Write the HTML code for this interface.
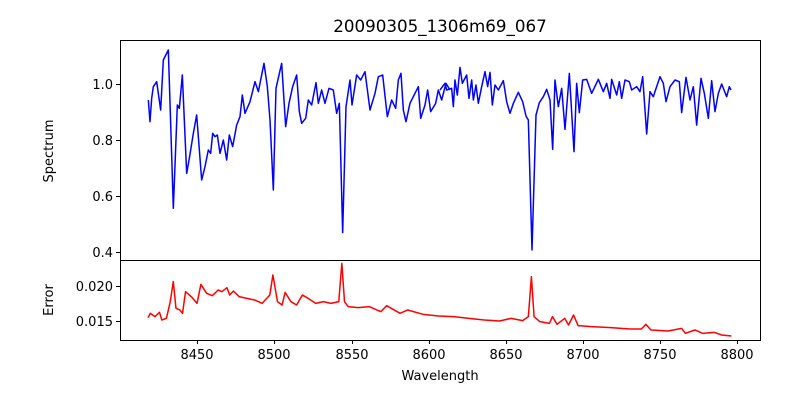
<!DOCTYPE html>
<html><head><meta charset="utf-8"><style>
html,body{margin:0;padding:0;background:#fff;}
svg{display:block;font-family:"DejaVu Sans","Liberation Sans",sans-serif;}
</style></head><body>
<svg width="800" height="400" viewBox="0 0 800 400" xmlns="http://www.w3.org/2000/svg">
<rect width="800" height="400" fill="#fff"/>
<text x="440" y="32" font-size="16.7" text-anchor="middle">20090305_1306m69_067</text>
<g fill="none" stroke="#0000ff" stroke-width="1.5" stroke-linejoin="round">
<polyline vector-effect="non-scaling-stroke" transform="translate(140,40) scale(0.33333)" points="25,180 30,245 35,175 40,140 50,125 62,210 70,60 85,30 100,505 112,195 118,205 127,105 140,400 148,355 160,280 170,225 185,420 195,380 205,330 212,340 218,280 225,290 232,285 240,340 250,300 260,360 268,285 278,320 290,255 300,230 307,165 315,220 330,185 345,125 355,155 372,70 382,140 390,240 400,450 408,145 425,70 437,260 447,190 458,140 470,105 478,215 485,250 497,235 505,180 515,195 528,128 535,190 545,150 555,190 567,145 580,150 590,220 598,190 608,578 618,200 630,120 636,195 650,105 662,120 675,95 690,210 705,160 715,110 728,105 742,230 755,180 767,205 775,120 783,100 790,210 798,245 810,190 825,160 835,140 842,235 855,195 863,150 872,215 887,190 895,150 905,180 918,130 930,150"/>
<polyline vector-effect="non-scaling-stroke" transform="translate(440,40) scale(0.33333)" points="0,150 15,130 20,150 35,145 40,200 45,120 52,165 60,82 67,130 80,105 87,175 95,120 100,180 108,135 115,190 125,140 135,95 143,140 150,97 157,195 165,135 175,150 190,122 200,185 210,220 220,190 235,157 248,185 258,228 265,240 276,630 288,225 298,188 310,170 320,148 330,180 338,328 345,120 355,200 365,145 375,268 388,100 402,335 410,130 418,218 428,120 440,118 455,160 475,118 490,155 500,130 510,175 515,118 530,165 538,125 545,175 555,120 568,125 575,150 590,140 600,155 608,110 620,282 630,155 640,170 660,110 670,130 678,185 690,140 705,120 718,125 725,218 738,112 750,180 760,140 770,255 783,115 793,160 805,235 815,122 825,215 835,160 845,132 852,150 860,170 868,140 873,150"/>
</g>
<polyline fill="none" stroke="#ff0000" stroke-width="1.5" stroke-linejoin="round" vector-effect="non-scaling-stroke" transform="translate(139.6,255) scale(0.383,0.33333)" points="22,188 28,175 40,185 52,172 58,195 70,190 80,140 88,80 95,160 105,165 112,175 120,110 135,125 150,145 160,88 175,115 190,122 205,105 215,110 228,98 235,120 245,108 260,125 280,130 300,135 320,145 340,120 348,60 360,140 372,150 380,112 395,140 410,150 425,120 440,130 460,145 480,140 500,145 520,140 528,25 535,140 545,155 570,158 600,155 630,170 645,152 680,175 700,165 740,178 780,183 820,185 860,190 900,195 940,198 970,190 1000,197 1015,185 1023,65 1030,185 1045,200 1070,205 1078,185 1090,208 1110,190 1120,210 1133,180 1145,212 1180,215 1230,218 1280,222 1310,222 1322,208 1335,225 1380,228 1415,220 1425,235 1450,225 1470,235 1500,232 1520,240 1545,243"/>
<g fill="none" stroke="#000" stroke-width="1">
<rect x="120.5" y="40.5" width="640" height="220"/>
<rect x="120.5" y="260.5" width="640" height="80"/>
<path d="M120,252.5h-4M120,196.5h-4M120,140.5h-4M120,84.5h-4M120,321.5h-4M120,286.5h-4
M197.5,340v4M274.5,340v4M352.5,340v4M429.5,340v4M506.5,340v4M583.5,340v4M660.5,340v4M737.5,340v4"/>
</g>
<g font-size="13" text-anchor="end">
<text x="113" y="257">0.4</text><text x="113" y="201">0.6</text><text x="113" y="145">0.8</text><text x="113" y="89">1.0</text>
<text x="113" y="326">0.015</text><text x="113" y="291">0.020</text>
</g>
<g font-size="13" text-anchor="middle">
<text x="197" y="359">8450</text><text x="274" y="359">8500</text><text x="352" y="359">8550</text><text x="429" y="359">8600</text><text x="506" y="359">8650</text><text x="583" y="359">8700</text><text x="660" y="359">8750</text><text x="737" y="359">8800</text>
<text x="440" y="380">Wavelength</text>
<text transform="translate(53,151) rotate(-90)">Spectrum</text>
<text transform="translate(53,300) rotate(-90)">Error</text>
</g>
</svg>
</body></html>
